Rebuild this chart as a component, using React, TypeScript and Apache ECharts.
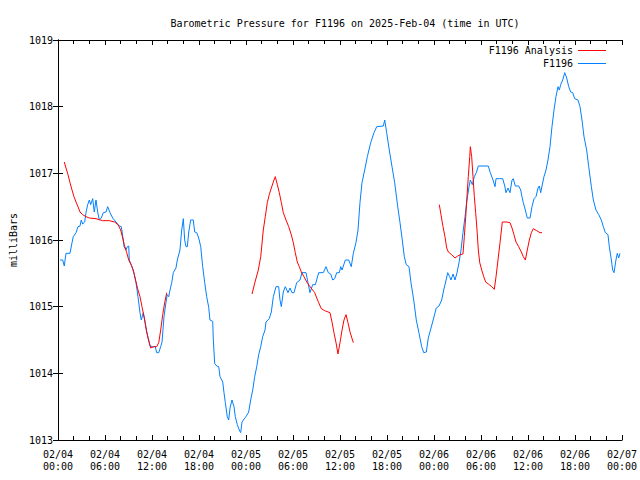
import React, { useEffect, useRef } from "react";
import * as echarts from "echarts";

// Hours since 2025-02-04 00:00 UTC
const blueHours = [
  0.26, 0.6, 0.8, 1.02, 1.53, 1.79, 1.95, 2.3, 2.55, 2.81, 2.97, 3.15, 3.41, 3.57, 3.79, 4.0, 4.17, 4.43, 4.63, 4.85,
  5.07, 5.27, 5.53, 5.78, 6.13, 6.34, 6.64, 6.98, 7.4, 7.83, 8.08, 8.26, 8.43, 8.68, 8.85, 9.03, 9.1, 9.45, 9.74, 9.96,
  10.21, 10.47, 10.63, 10.89, 11.14, 11.32, 11.58, 11.74, 12.09, 12.42, 12.6, 12.86, 13.11, 13.28, 13.53, 13.79, 13.95, 14.13, 14.3, 14.52,
  14.72, 15.06, 15.23, 15.57, 15.79, 16.0, 16.17, 16.34, 16.51, 16.69, 16.94, 17.27, 17.45, 17.71, 17.96, 18.22, 18.47, 18.73, 18.98, 19.24,
  19.4, 19.75, 19.83, 20.0, 20.26, 20.52, 20.68, 21.03, 21.19, 21.36, 21.61, 21.79, 21.96, 22.21, 22.47, 22.63, 22.89, 23.14, 23.32, 23.49,
  23.66, 24.0, 24.34, 24.6, 24.86, 25.11, 25.37, 25.62, 25.88, 26.13, 26.43, 26.55, 26.97, 27.23, 27.49, 27.83, 28.17, 28.34, 28.51, 28.76,
  29.02, 29.36, 29.62, 29.87, 30.13, 30.47, 30.89, 31.15, 31.66, 31.91, 32.17, 32.51, 32.85, 33.28, 33.87, 34.21, 34.51, 34.81, 35.07, 35.32,
  35.58, 35.91, 36.09, 36.26, 36.68, 37.11, 37.44, 37.7, 38.04, 38.3, 38.55, 38.81, 39.15, 39.49, 39.92, 40.34, 40.69, 41.53, 41.71, 41.96,
  42.29, 42.64, 42.98, 43.37, 43.66, 43.95, 44.21, 44.46, 44.81, 45.06, 45.41, 45.74, 46.09, 46.43, 46.69, 47.02, 47.27, 47.62, 47.96, 48.29,
  48.64, 48.98, 49.24, 49.49, 49.75, 50.0, 50.17, 50.43, 50.68, 50.94, 51.19, 51.45, 51.7, 51.96, 52.21, 52.47, 52.64, 52.89, 53.15, 53.4,
  53.66, 54.93, 55.19, 55.53, 55.79, 55.92, 56.34, 56.77, 57.03, 57.19, 57.45, 57.7, 57.96, 58.12, 58.38, 58.81, 59.07, 59.23, 59.4, 59.66,
  59.91, 60.26, 60.51, 60.77, 61.02, 61.28, 61.44, 61.62, 61.79, 62.04, 62.3, 62.55, 62.81, 63.06, 63.32, 63.57, 63.83, 64.0, 64.17, 64.43,
  64.69, 64.94, 65.2, 65.45, 65.71, 65.96, 66.38, 66.64, 66.89, 67.15, 67.49, 67.75, 68.09, 68.34, 68.68, 69.03, 69.36, 69.62, 69.87, 70.21,
  70.38, 70.64, 70.81, 70.98, 71.23, 71.4, 71.58, 71.74,
];
const blueValues = [
  1015.7, 1015.7, 1015.61, 1015.8, 1015.8, 1015.96, 1016.05, 1016.11, 1016.2, 1016.21, 1016.3, 1016.24, 1016.27, 1016.41, 1016.53, 1016.6, 1016.53, 1016.62, 1016.42, 1016.6,
  1016.42, 1016.3, 1016.33, 1016.41, 1016.42, 1016.5, 1016.41, 1016.33, 1016.27, 1016.21, 1016.2, 1016.06, 1015.9, 1015.85, 1015.9, 1015.91, 1015.7, 1015.6, 1015.48, 1015.36,
  1015.15, 1014.91, 1014.8, 1014.91, 1014.76, 1014.62, 1014.5, 1014.41, 1014.4, 1014.4, 1014.31, 1014.31, 1014.4, 1014.47, 1014.85, 1015.07, 1015.18, 1015.15, 1015.25, 1015.36,
  1015.51, 1015.58, 1015.7, 1015.85, 1016.15, 1016.32, 1016.0, 1015.9, 1015.9, 1016.12, 1016.3, 1016.3, 1016.12, 1016.11, 1016.03, 1015.9, 1015.6, 1015.36, 1015.15, 1014.99,
  1014.8, 1014.78, 1014.5, 1014.15, 1014.11, 1014.1, 1013.95, 1013.87, 1013.71, 1013.56, 1013.35, 1013.3, 1013.48, 1013.6, 1013.5, 1013.35, 1013.23, 1013.15, 1013.11, 1013.27,
  1013.3, 1013.35, 1013.42, 1013.6, 1013.75, 1013.95, 1014.1, 1014.28, 1014.4, 1014.55, 1014.65, 1014.77, 1014.82, 1014.92, 1015.15, 1015.3, 1015.3, 1015.1, 1015.0, 1015.22,
  1015.3, 1015.21, 1015.28, 1015.21, 1015.21, 1015.36, 1015.4, 1015.51, 1015.51, 1015.36, 1015.21, 1015.33, 1015.33, 1015.51, 1015.51, 1015.6, 1015.51, 1015.49, 1015.4, 1015.42,
  1015.51, 1015.51, 1015.6, 1015.55, 1015.7, 1015.7, 1015.6, 1015.8, 1015.96, 1016.15, 1016.56, 1016.86, 1017.05, 1017.25, 1017.46, 1017.61, 1017.7, 1017.71, 1017.8, 1017.61,
  1017.35, 1017.1, 1016.86, 1016.5, 1016.26, 1016.0, 1015.75, 1015.63, 1015.6, 1015.36, 1015.1, 1014.8, 1014.6, 1014.4, 1014.31, 1014.32, 1014.53, 1014.68, 1014.83, 1014.98,
  1015.01, 1015.1, 1015.25, 1015.37, 1015.51, 1015.45, 1015.4, 1015.49, 1015.4, 1015.51, 1015.66, 1015.85, 1016.11, 1016.35, 1016.6, 1016.8, 1016.9, 1016.83, 1016.95, 1017.01,
  1017.11, 1017.11, 1017.01, 1016.9, 1016.8, 1016.92, 1016.92, 1016.92, 1016.81, 1016.71, 1016.78, 1016.71, 1016.9, 1016.92, 1016.81, 1016.81, 1016.75, 1016.65, 1016.56, 1016.45,
  1016.33, 1016.33, 1016.5, 1016.62, 1016.65, 1016.78, 1016.81, 1016.71, 1016.81, 1016.95, 1017.05, 1017.2, 1017.4, 1017.7, 1017.95, 1018.15, 1018.3, 1018.25, 1018.33, 1018.4,
  1018.51, 1018.43, 1018.3, 1018.22, 1018.21, 1018.12, 1018.1, 1018.0, 1017.8, 1017.55, 1017.35, 1017.1, 1016.8, 1016.6, 1016.45, 1016.38, 1016.3, 1016.2, 1016.11, 1016.08,
  1015.9, 1015.7, 1015.55, 1015.51, 1015.7, 1015.8, 1015.73, 1015.8,
];

// Analysis series; null values mark gaps between runs
const redHours = [
  0.8, 1.02, 1.28, 1.53, 1.79, 2.04, 2.3, 2.55, 2.81, 3.15, 3.57, 4.0, 4.85, 5.7, 6.55, 7.24, 7.66, 8.0, 8.26, 8.46,
  8.77, 9.03, 9.32, 9.61, 9.96, 10.21, 10.47, 10.72, 10.98, 11.23, 11.49, 11.83, 12.26, 12.6, 12.86, 13.11, 13.37, 13.62, 13.88,
  18.0,
  24.77, 25.15, 25.57, 25.88, 26.21, 26.46, 26.72, 26.97, 27.23, 27.49, 27.74, 28.0, 28.25, 28.51, 28.76, 29.11, 29.45, 29.78, 30.04, 30.29,
  30.55, 30.8, 31.06, 31.4, 31.75, 32.17, 32.51, 32.77, 33.03, 33.28, 33.61, 34.05, 34.72, 34.98, 35.23, 35.49, 35.74, 36.0, 36.26, 36.51,
  36.77, 37.02, 37.28, 37.7,
  42.0,
  48.68, 48.89, 49.15, 49.4, 49.62, 49.83, 50.26, 50.68, 51.03, 51.36, 51.7, 51.87, 52.05, 52.21, 52.38, 52.56, 52.64, 52.81, 52.98, 53.15,
  53.32, 53.49, 53.66, 53.84, 54.09, 54.35, 54.6, 54.94, 55.37, 55.7, 55.92, 56.17, 56.43, 56.72, 57.29, 57.7, 57.96, 58.21, 58.47, 58.81,
  59.15, 59.4, 59.66, 59.91, 60.17, 60.43, 60.68, 61.11, 61.53, 61.79,
];
const redValues: (number | null)[] = [
  1017.17, 1017.08, 1016.98, 1016.86, 1016.75, 1016.65, 1016.57, 1016.5, 1016.42, 1016.38, 1016.35, 1016.33, 1016.32, 1016.29, 1016.29, 1016.27, 1016.23, 1016.15, 1016.03, 1015.93,
  1015.81, 1015.7, 1015.63, 1015.55, 1015.37, 1015.25, 1015.15, 1015.0, 1014.85, 1014.68, 1014.53, 1014.38, 1014.4, 1014.4, 1014.46, 1014.65, 1014.88, 1015.06, 1015.21,
  null,
  1015.19, 1015.37, 1015.55, 1015.75, 1016.15, 1016.35, 1016.56, 1016.68, 1016.78, 1016.87, 1016.95, 1016.83, 1016.71, 1016.56, 1016.41, 1016.3, 1016.2, 1016.08, 1015.96, 1015.81,
  1015.67, 1015.6, 1015.52, 1015.45, 1015.37, 1015.3, 1015.25, 1015.21, 1015.13, 1015.06, 1014.97, 1014.94, 1014.91, 1014.77, 1014.61, 1014.46, 1014.29, 1014.46, 1014.65, 1014.8,
  1014.88, 1014.76, 1014.62, 1014.46,
  null,
  1016.53, 1016.38, 1016.2, 1016.05, 1015.88, 1015.82, 1015.78, 1015.73, 1015.76, 1015.78, 1015.79, 1016.05, 1016.35, 1016.65, 1016.95, 1017.25, 1017.4, 1017.25, 1016.95, 1016.65,
  1016.41, 1016.15, 1015.85, 1015.66, 1015.55, 1015.45, 1015.37, 1015.34, 1015.3, 1015.26, 1015.45, 1015.7, 1015.96, 1016.27, 1016.27, 1016.26, 1016.18, 1016.08, 1015.97, 1015.9,
  1015.82, 1015.75, 1015.7, 1015.85, 1016.0, 1016.11, 1016.17, 1016.14, 1016.11, 1016.11,
];

const titleText = "Barometric Pressure for F1196 on 2025-Feb-04 (time in UTC)";
const yTicks = { min: 1013, max: 1019, interval: 1 };
const xTicks = { min: 0, max: 72, interval: 6 };
const startDay = 4;

const FONT = "DejaVu Sans Mono";

function fmtX(h: number): string {
  const day = startDay + Math.floor(h / 24 + 1e-9);
  const hr = Math.round(h - (day - startDay) * 24);
  const dd = String(day).padStart(2, "0");
  const hh = String(hr).padStart(2, "0");
  return `02/${dd}\n${hh}:00`;
}

export default function App() {
  const ref = useRef<HTMLDivElement>(null);
  useEffect(() => {
    if (!ref.current) return;
    const chart = echarts.init(ref.current, undefined, { renderer: "svg" });
    const axisLine = { show: true, lineStyle: { color: "#000", width: 1 } };
    const textStyle = { fontFamily: FONT, fontSize: 10, color: "#000" };
    chart.setOption({
      animation: false,
      backgroundColor: "#fff",
      title: {
        text: titleText,
        left: 340,
        textAlign: "center",
        top: 13,
        textStyle: { ...textStyle, fontWeight: "normal" },
      },
      legend: {
        orient: "vertical",
        right: 29,
        top: 39,
        align: "right",
        itemWidth: 28,
        itemHeight: 1,
        itemGap: 0,
        icon: "rect",
        textStyle: { ...textStyle, lineHeight: 13 },
        data: ["F1196 Analysis", "F1196"],
      },
      grid: { left: 58, right: 18, top: 40, bottom: 40, containLabel: false, outerBoundsMode: "none" },
      xAxis: [
        {
          type: "value",
          ...xTicks,
          axisLine,
          axisTick: { show: true, inside: true, length: 5, lineStyle: { color: "#000" } },
          minorTick: { show: true, splitNumber: 3, length: 4, lineStyle: { color: "#000" } },
          splitLine: { show: false },
          axisLabel: { ...textStyle, formatter: (v: number) => fmtX(v), lineHeight: 12, margin: 8 },
        },
        {
          type: "value",
          position: "top",
          ...xTicks,
          axisLine,
          axisTick: { show: true, inside: true, length: 5, lineStyle: { color: "#000" } },
          minorTick: { show: true, splitNumber: 3, length: 4, lineStyle: { color: "#000" } },
          splitLine: { show: false },
          axisLabel: { show: false },
        },
      ],
      yAxis: [
        {
          type: "value",
          ...yTicks,
          name: "milliBars",
          nameLocation: "middle",
          nameGap: 36,
          nameTextStyle: textStyle,
          axisLine,
          axisTick: { show: true, inside: true, length: 5, lineStyle: { color: "#000" } },
          splitLine: { show: false },
          axisLabel: { ...textStyle, margin: 5, formatter: (v: number) => String(v) },
        },
        {
          type: "value",
          position: "right",
          ...yTicks,
          axisLine,
          axisTick: { show: true, inside: true, length: 5, lineStyle: { color: "#000" } },
          splitLine: { show: false },
          axisLabel: { show: false },
        },
      ],
      series: [
        {
          name: "F1196 Analysis",
          type: "line",
          symbol: "none",
          connectNulls: false,
          color: "#ff0000",
          lineStyle: { width: 1, color: "#ff0000" },
          data: redHours.map((h, i) => [h, redValues[i]]),
          z: 3,
        },
        {
          name: "F1196",
          type: "line",
          symbol: "none",
          color: "#0080ff",
          lineStyle: { width: 1, color: "#0080ff" },
          data: blueHours.map((h, i) => [h, blueValues[i]]),
          z: 2,
        },
      ],
    });
    return () => chart.dispose();
  }, []);
  return <div ref={ref} style={{ width: 640, height: 480, position: "absolute", left: 0, top: 0 }} />;
}
